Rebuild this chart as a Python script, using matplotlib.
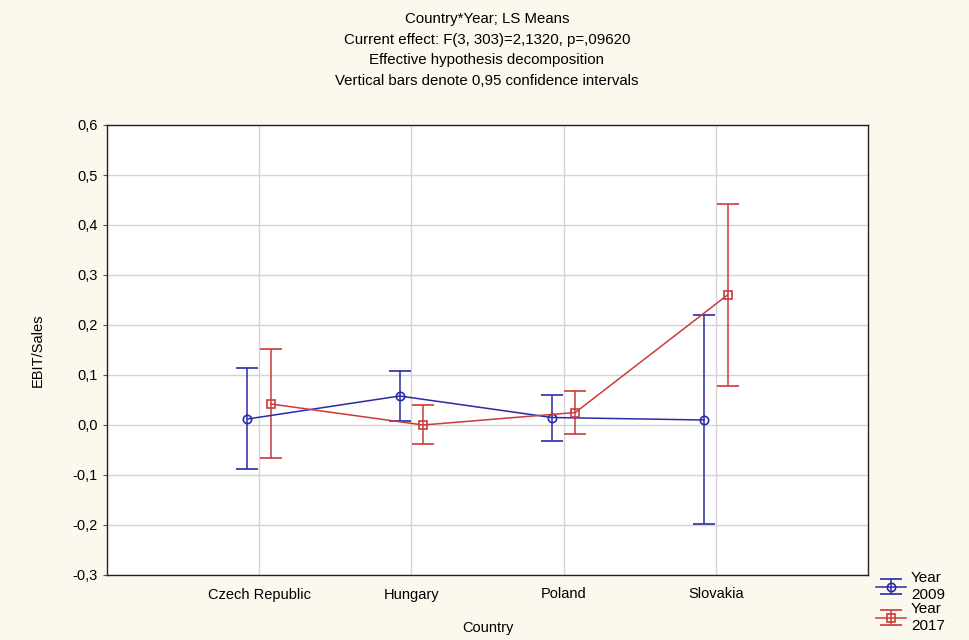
import numpy as np
import matplotlib.pyplot as plt
from matplotlib.ticker import FuncFormatter

countries = ["Czech Republic", "Hungary", "Poland", "Slovakia"]

mean_2009 = [0.012, 0.058, 0.015, 0.010]
low_2009 = [-0.088, 0.008, -0.032, -0.198]
high_2009 = [0.115, 0.108, 0.060, 0.220]

mean_2017 = [0.042, 0.000, 0.025, 0.260]
low_2017 = [-0.066, -0.038, -0.017, 0.078]
high_2017 = [0.153, 0.040, 0.068, 0.443]

title_lines = [
    "Country*Year; LS Means",
    "Current effect: F(3, 303)=2,1320, p=,09620",
    "Effective hypothesis decomposition",
    "Vertical bars denote 0,95 confidence intervals",
]

BG = "#fbf8ee"
BLUE = "#2a2aa8"
RED = "#cc3a3a"

plt.rcParams["font.family"] = ["Liberation Sans", "DejaVu Sans"]

fig = plt.figure(figsize=(9.7, 6.4), dpi=100, facecolor=BG)
ax = fig.add_axes([107 / 970, 1 - 575 / 640, (868 - 107) / 970, 450 / 640])
ax.set_facecolor("white")

x = np.arange(len(countries))
offset = 0.077


def draw_series(xs, mean, low, high, color, marker, label):
    mean = np.array(mean)
    err = [mean - np.array(low), np.array(high) - mean]
    ax.errorbar(xs, mean, yerr=err, color=color, marker=marker, ms=6,
                mfc="none", mec=color, mew=1.2, lw=1.1, elinewidth=1.1,
                capsize=8, capthick=1.1, label=label)


draw_series(x - offset, mean_2009, low_2009, high_2009, BLUE, "o", "Year\n2009")
draw_series(x + offset, mean_2017, low_2017, high_2017, RED, "s", "Year\n2017")

ax.set_xlim(-1, len(countries))
ax.set_ylim(-0.3, 0.6)
ax.set_xticks(x)
ax.set_xticklabels(countries, fontsize=10.5)
ax.set_yticks(np.arange(-0.3, 0.61, 0.1))
ax.yaxis.set_major_formatter(FuncFormatter(lambda v, p: f"{v:.1f}".replace(".", ",").replace("-0,0", "0,0")))
ax.tick_params(axis="y", labelsize=10.5, length=3, color="#555555")
ax.tick_params(axis="x", length=0, pad=9)
ax.grid(True, color="#d4d4d4", lw=1)
ax.set_axisbelow(True)
for s in ax.spines.values():
    s.set_color("#222222")
    s.set_linewidth(1)

ax.set_xlabel("Country", fontsize=10.5, labelpad=14)
ax.set_ylabel("EBIT/Sales", fontsize=10.5, labelpad=20)

fig.text(487 / 970, 1 - 50 / 640, "\n".join(title_lines), ha="center", va="center",
         fontsize=10.8, linespacing=1.6)

leg = ax.legend(loc="lower left", bbox_to_anchor=(1.0, -0.145), frameon=False,
                fontsize=11, handlelength=2.0, handletextpad=0.3,
                labelspacing=0.05, borderpad=0)

fig.savefig("out.png", dpi=100, facecolor=BG)
